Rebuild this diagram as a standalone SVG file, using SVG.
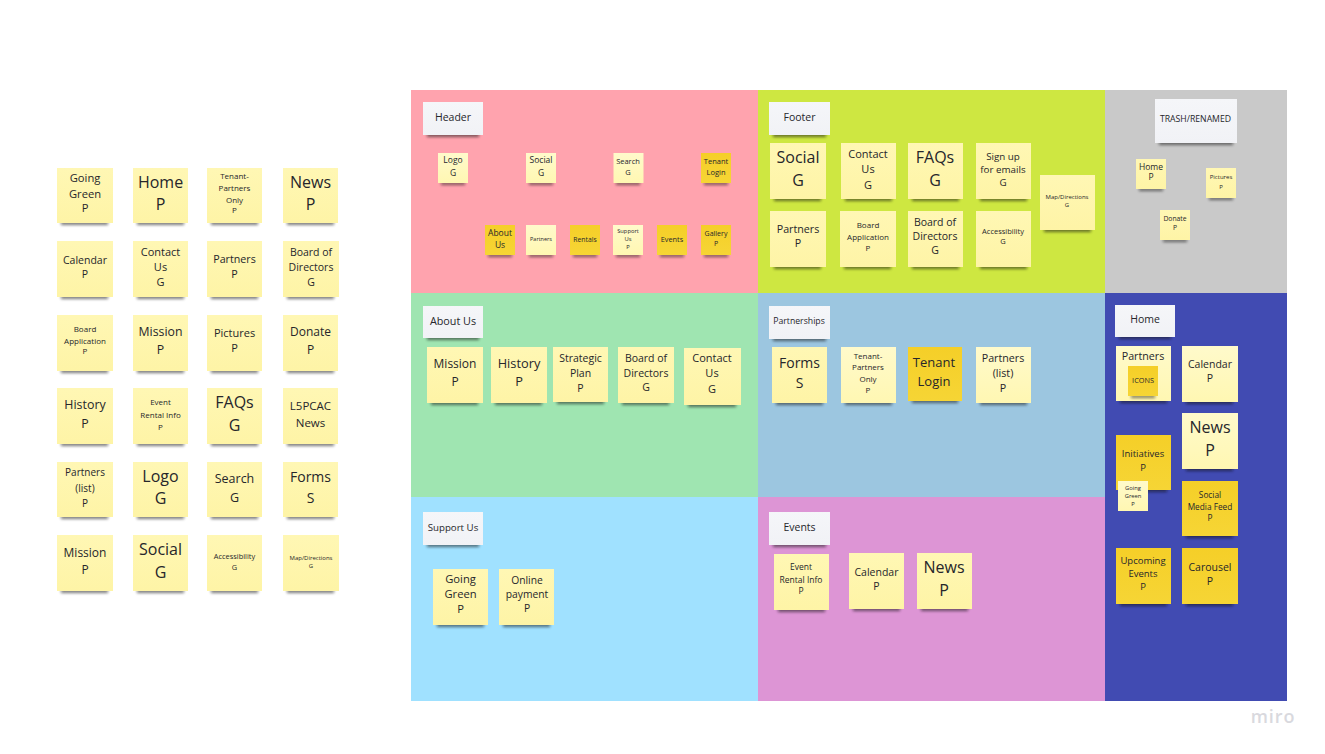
<svg xmlns="http://www.w3.org/2000/svg" width="1325" height="754" viewBox="0 0 1325 754">
<style>
text{font-family:"Open Sans","Noto Sans","Liberation Sans",sans-serif;fill:#26262b;text-anchor:middle}
.y{fill:url(#gy)}.l{fill:url(#gl)}.o{fill:url(#go)}.c{fill:url(#gc)}
.sh{fill:#111;opacity:.55;filter:url(#bl);transform:translateY(1px)}
.miro{fill:#d9d9de;font-weight:600;font-size:18px;letter-spacing:.9px}
</style>
<defs>
<filter id="bl" x="-20%" y="-200%" width="140%" height="500%"><feGaussianBlur stdDeviation="1.5"/></filter>
<linearGradient id="gy" x1="0" y1="0" x2="0" y2="1"><stop offset="0" stop-color="#fff7b4"/><stop offset="1" stop-color="#fef4a6"/></linearGradient>
<linearGradient id="gl" x1="0" y1="0" x2="0" y2="1"><stop offset="0" stop-color="#fffacb"/><stop offset="1" stop-color="#fff7b2"/></linearGradient>
<linearGradient id="go" x1="0" y1="0" x2="0" y2="1"><stop offset="0" stop-color="#f5cf28"/><stop offset="1" stop-color="#f6d535"/></linearGradient>
<linearGradient id="gc" x1="0" y1="0" x2="0" y2="1"><stop offset="0" stop-color="#f5f6f9"/><stop offset="1" stop-color="#f1f2f6"/></linearGradient>
</defs>
<rect width="1325" height="754" fill="#fff"/>
<g id="sections">
<rect id="sec-header" x="411" y="90" width="347" height="203" fill="#ffa3ae"/>
<rect id="sec-footer" x="758" y="90" width="347" height="203" fill="#cee741"/>
<rect id="sec-trash" x="1105" y="90" width="182" height="203" fill="#c9c9c9"/>
<rect id="sec-about" x="411" y="293" width="347" height="204" fill="#9fe5b1"/>
<rect id="sec-partnerships" x="758" y="293" width="347" height="204" fill="#9cc6e0"/>
<rect id="sec-home" x="1105" y="293" width="182" height="408" fill="#414bb2"/>
<rect id="sec-support" x="411" y="497" width="347" height="204" fill="#a0e1ff"/>
<rect id="sec-events" x="758" y="497" width="347" height="204" fill="#dd95d5"/>
</g>
<g id="connectors"/>
<g id="nodes">
<!-- left board -->
<g id="l-going-green"><rect class="sh" x="61" y="220" width="47" height="4"/><rect class="y" x="57" y="168" width="56" height="55"/><text font-size="11.2"><tspan x="85" y="182">Going</tspan><tspan x="85" y="198">Green</tspan><tspan x="85" y="212">P</tspan></text></g>
<g id="l-home"><rect class="sh" x="137" y="220" width="47" height="4"/><rect class="y" x="133" y="168" width="55" height="55"/><text font-size="16"><tspan x="160.500" y="188">Home</tspan><tspan x="160.500" y="210">P</tspan></text></g>
<g id="l-tenant"><rect class="sh" x="211" y="220" width="47" height="4"/><rect class="y" x="207" y="168" width="55" height="55"/><text font-size="8"><tspan x="234.500" y="179">Tenant-</tspan><tspan x="234.500" y="191">Partners</tspan><tspan x="234.500" y="203">Only</tspan><tspan x="234.500" y="213">P</tspan></text></g>
<g id="l-news"><rect class="sh" x="287" y="220" width="47" height="4"/><rect class="y" x="283" y="168" width="55" height="55"/><text font-size="16"><tspan x="310.500" y="188">News</tspan><tspan x="310.500" y="210">P</tspan></text></g>

<g id="l-calendar"><rect class="sh" x="61" y="294" width="47" height="4"/><rect class="y" x="57" y="241" width="56" height="56"/><text font-size="10.500"><tspan x="85" y="264">Calendar</tspan><tspan x="85" y="278">P</tspan></text></g>
<g id="l-contact"><rect class="sh" x="137" y="294" width="47" height="4"/><rect class="y" x="133" y="241" width="55" height="56"/><text font-size="11"><tspan x="160.500" y="256">Contact</tspan><tspan x="160.500" y="271">Us</tspan><tspan x="160.500" y="286">G</tspan></text></g>
<g id="l-partners"><rect class="sh" x="211" y="294" width="47" height="4"/><rect class="y" x="207" y="241" width="55" height="56"/><text font-size="10.700"><tspan x="234.500" y="263">Partners</tspan><tspan x="234.500" y="278">P</tspan></text></g>
<g id="l-board"><rect class="sh" x="287" y="294" width="47" height="4"/><rect class="y" x="283" y="241" width="56" height="56"/><text font-size="10.500"><tspan x="311" y="256">Board of</tspan><tspan x="311" y="271">Directors</tspan><tspan x="311" y="286">G</tspan></text></g>

<g id="l-boardapp"><rect class="sh" x="61" y="368" width="47" height="4"/><rect class="y" x="57" y="315" width="56" height="56"/><text font-size="8"><tspan x="85" y="332">Board</tspan><tspan x="85" y="344">Application</tspan><tspan x="85" y="354">P</tspan></text></g>
<g id="l-mission"><rect class="sh" x="137" y="368" width="47" height="4"/><rect class="y" x="133" y="315" width="55" height="56"/><text font-size="12.300"><tspan x="160.500" y="336">Mission</tspan><tspan x="160.500" y="354">P</tspan></text></g>
<g id="l-pictures"><rect class="sh" x="211" y="368" width="47" height="4"/><rect class="y" x="207" y="315" width="55" height="56"/><text font-size="11"><tspan x="234.500" y="337">Pictures</tspan><tspan x="234.500" y="352">P</tspan></text></g>
<g id="l-donate"><rect class="sh" x="287" y="368" width="47" height="4"/><rect class="y" x="283" y="315" width="55" height="56"/><text font-size="12"><tspan x="310.500" y="336">Donate</tspan><tspan x="310.500" y="354">P</tspan></text></g>

<g id="l-history"><rect class="sh" x="61" y="441" width="47" height="4"/><rect class="y" x="57" y="388" width="56" height="56"/><text font-size="12.400"><tspan x="85" y="409">History</tspan><tspan x="85" y="428">P</tspan></text></g>
<g id="l-event"><rect class="sh" x="137" y="441" width="47" height="4"/><rect class="y" x="133" y="388" width="55" height="56"/><text font-size="8"><tspan x="160.500" y="405">Event</tspan><tspan x="160.500" y="418">Rental Info</tspan><tspan x="160.500" y="430">P</tspan></text></g>
<g id="l-faqs"><rect class="sh" x="211" y="441" width="47" height="4"/><rect class="y" x="207" y="388" width="55" height="56"/><text font-size="16"><tspan x="234.500" y="408">FAQs</tspan><tspan x="234.500" y="431">G</tspan></text></g>
<g id="l-l5pcac"><rect class="sh" x="287" y="441" width="47" height="4"/><rect class="y" x="283" y="388" width="55" height="56"/><text font-size="11.500"><tspan x="310.500" y="410">L5PCAC</tspan><tspan x="310.500" y="427">News</tspan></text></g>

<g id="l-partners-list"><rect class="sh" x="61" y="514" width="47" height="4"/><rect class="y" x="57" y="462" width="56" height="55"/><text font-size="10"><tspan x="85" y="476">Partners</tspan><tspan x="85" y="492">(list)</tspan><tspan x="85" y="507">P</tspan></text></g>
<g id="l-logo"><rect class="sh" x="137" y="514" width="47" height="4"/><rect class="y" x="133" y="462" width="55" height="55"/><text font-size="16"><tspan x="160.500" y="482">Logo</tspan><tspan x="160.500" y="504">G</tspan></text></g>
<g id="l-search"><rect class="sh" x="211" y="514" width="47" height="4"/><rect class="y" x="207" y="462" width="55" height="55"/><text font-size="12.500"><tspan x="234.500" y="483">Search</tspan><tspan x="234.500" y="502">G</tspan></text></g>
<g id="l-forms"><rect class="sh" x="287" y="514" width="47" height="4"/><rect class="y" x="283" y="462" width="55" height="55"/><text font-size="14"><tspan x="310.500" y="482">Forms</tspan><tspan x="310.500" y="503">S</tspan></text></g>

<g id="l-mission2"><rect class="sh" x="61" y="588" width="47" height="4"/><rect class="y" x="57" y="535" width="56" height="56"/><text font-size="12"><tspan x="85" y="557">Mission</tspan><tspan x="85" y="574">P</tspan></text></g>
<g id="l-social"><rect class="sh" x="137" y="588" width="47" height="4"/><rect class="y" x="133" y="535" width="55" height="56"/><text font-size="16"><tspan x="160.500" y="555">Social</tspan><tspan x="160.500" y="578">G</tspan></text></g>
<g id="l-access"><rect class="sh" x="211" y="588" width="47" height="4"/><rect class="y" x="207" y="535" width="55" height="56"/><text font-size="7.400"><tspan x="234.500" y="559">Accessibility</tspan><tspan x="234.500" y="570">G</tspan></text></g>
<g id="l-map"><rect class="sh" x="287" y="588" width="47" height="4"/><rect class="y" x="283" y="535" width="56" height="56"/><text font-size="6"><tspan x="311" y="560">Map/Directions</tspan><tspan x="311" y="567.500">G</tspan></text></g>

<!-- header -->
<g id="h-card"><rect class="sh" x="427" y="132" width="52" height="4"/><rect class="c" x="423" y="102" width="60" height="33"/><text font-size="10.500" x="453" y="120.700">Header</text></g>
<g id="h-logo"><rect class="sh" x="441" y="181" width="24" height="3"/><rect class="l" x="438" y="153" width="30" height="30"/><text font-size="8.500"><tspan x="453" y="163">Logo</tspan><tspan x="453" y="176">G</tspan></text></g>
<g id="h-social"><rect class="sh" x="529" y="181" width="24" height="3"/><rect class="l" x="526" y="153" width="30" height="30"/><text font-size="8.500"><tspan x="541" y="163">Social</tspan><tspan x="541" y="176">G</tspan></text></g>
<g id="h-search"><rect class="sh" x="616" y="181" width="24" height="3"/><rect class="l" x="613.500" y="153" width="30" height="30"/><text font-size="7.500"><tspan x="628" y="164">Search</tspan><tspan x="628" y="175">G</tspan></text></g>
<g id="h-tenant"><rect class="sh" x="704" y="181" width="24" height="3"/><rect class="o" x="701" y="153" width="30" height="30"/><text font-size="7.500"><tspan x="716" y="164">Tenant</tspan><tspan x="716" y="175">Login</tspan></text></g>
<g id="h-about"><rect class="sh" x="488" y="253" width="24" height="3"/><rect class="o" x="485" y="225" width="30" height="30"/><text font-size="8.500"><tspan x="500" y="236">About</tspan><tspan x="500" y="248">Us</tspan></text></g>
<g id="h-partners"><rect class="sh" x="529" y="253" width="24" height="3"/><rect class="l" x="526" y="225" width="30" height="30"/><text font-size="5.500" x="541" y="241">Partners</text></g>
<g id="h-rentals"><rect class="sh" x="573" y="253" width="24" height="3"/><rect class="o" x="570" y="225" width="30" height="30"/><text font-size="6.800" x="585" y="241.500">Rentals</text></g>
<g id="h-support"><rect class="sh" x="616" y="253" width="24" height="3"/><rect class="l" x="613" y="225" width="30" height="30"/><text font-size="5.800"><tspan x="628" y="232.700">Support</tspan><tspan x="628" y="240.500">Us</tspan><tspan x="628" y="249">P</tspan></text></g>
<g id="h-events"><rect class="sh" x="660" y="253" width="24" height="3"/><rect class="o" x="657" y="225" width="30" height="30"/><text font-size="7.300" x="672" y="242">Events</text></g>
<g id="h-gallery"><rect class="sh" x="704" y="253" width="24" height="3"/><rect class="o" x="701" y="225" width="30" height="30"/><text font-size="7"><tspan x="716" y="235.700">Gallery</tspan><tspan x="716" y="246">P</tspan></text></g>

<!-- footer -->
<g id="f-card"><rect class="sh" x="773" y="132" width="53" height="4"/><rect class="c" x="769" y="102" width="61" height="33"/><text font-size="10.500" x="799.500" y="120.700">Footer</text></g>
<g id="f-social"><rect class="sh" x="774" y="196" width="47" height="4"/><rect class="y" x="770" y="143" width="56" height="56"/><text font-size="16"><tspan x="798" y="163">Social</tspan><tspan x="798" y="186">G</tspan></text></g>
<g id="f-contact"><rect class="sh" x="845" y="196" width="47" height="4"/><rect class="y" x="841" y="143" width="55" height="56"/><text font-size="11"><tspan x="868" y="158">Contact</tspan><tspan x="868" y="173">Us</tspan><tspan x="868" y="189">G</tspan></text></g>
<g id="f-faqs"><rect class="sh" x="912" y="196" width="47" height="4"/><rect class="y" x="908" y="143" width="55" height="56"/><text font-size="16"><tspan x="935" y="163">FAQs</tspan><tspan x="935" y="186">G</tspan></text></g>
<g id="f-signup"><rect class="sh" x="980" y="196" width="47" height="4"/><rect class="y" x="976" y="143" width="55" height="56"/><text font-size="9.800"><tspan x="1003" y="160">Sign up</tspan><tspan x="1003" y="173">for emails</tspan><tspan x="1003" y="186">G</tspan></text></g>
<g id="f-partners"><rect class="sh" x="774" y="264" width="47" height="4"/><rect class="y" x="770" y="211" width="56" height="56"/><text font-size="10.700"><tspan x="798" y="233">Partners</tspan><tspan x="798" y="247">P</tspan></text></g>
<g id="f-boardapp"><rect class="sh" x="844" y="264" width="47" height="4"/><rect class="y" x="840" y="211" width="56" height="56"/><text font-size="8"><tspan x="868" y="228">Board</tspan><tspan x="868" y="240">Application</tspan><tspan x="868" y="251">P</tspan></text></g>
<g id="f-board"><rect class="sh" x="912" y="264" width="47" height="4"/><rect class="y" x="908" y="211" width="55" height="56"/><text font-size="10.500"><tspan x="935" y="226">Board of</tspan><tspan x="935" y="240">Directors</tspan><tspan x="935" y="254">G</tspan></text></g>
<g id="f-access"><rect class="sh" x="980" y="264" width="47" height="4"/><rect class="y" x="976" y="211" width="55" height="56"/><text font-size="7.500"><tspan x="1003" y="234">Accessibility</tspan><tspan x="1003" y="244">G</tspan></text></g>
<g id="f-map"><rect class="sh" x="1044" y="227" width="47" height="4"/><rect class="y" x="1040" y="175" width="55" height="55"/><text font-size="6"><tspan x="1067" y="199">Map/Directions</tspan><tspan x="1067" y="207">G</tspan></text></g>

<!-- trash -->
<g id="t-card"><rect class="sh" x="1159" y="140" width="74" height="4"/><rect class="c" x="1155" y="99" width="82" height="44"/><text font-size="8.700" x="1195.500" y="122">TRASH/RENAMED</text></g>
<g id="t-home"><rect class="sh" x="1139" y="187" width="24" height="3"/><rect class="y" x="1136" y="159" width="30" height="30"/><text font-size="8.500"><tspan x="1151" y="170">Home</tspan><tspan x="1151" y="180">P</tspan></text></g>
<g id="t-pictures"><rect class="sh" x="1209" y="196" width="24" height="3"/><rect class="y" x="1206" y="168" width="30" height="30"/><text font-size="6"><tspan x="1221" y="179">Pictures</tspan><tspan x="1221" y="189">P</tspan></text></g>
<g id="t-donate"><rect class="sh" x="1163" y="238" width="24" height="3"/><rect class="y" x="1160" y="210" width="30" height="30"/><text font-size="6.800"><tspan x="1175" y="221">Donate</tspan><tspan x="1175" y="230">P</tspan></text></g>

<!-- about -->
<g id="a-card"><rect class="sh" x="427" y="335" width="52" height="4"/><rect class="c" x="423" y="306" width="60" height="32"/><text font-size="10.800" x="453" y="325">About Us</text></g>
<g id="a-mission"><rect class="sh" x="431" y="400" width="47" height="4"/><rect class="y" x="427" y="347" width="56" height="56"/><text font-size="12"><tspan x="455" y="368">Mission</tspan><tspan x="455" y="386">P</tspan></text></g>
<g id="a-history"><rect class="sh" x="495" y="400" width="47" height="4"/><rect class="y" x="491" y="347" width="56" height="56"/><text font-size="12.800"><tspan x="519" y="368">History</tspan><tspan x="519" y="386">P</tspan></text></g>
<g id="a-strategic"><rect class="sh" x="557" y="399" width="47" height="4"/><rect class="y" x="553" y="347" width="55" height="55"/><text font-size="10.500"><tspan x="580.500" y="362">Strategic</tspan><tspan x="580.500" y="377">Plan</tspan><tspan x="580.500" y="392">P</tspan></text></g>
<g id="a-board"><rect class="sh" x="622" y="400" width="47" height="4"/><rect class="y" x="618" y="347" width="56" height="56"/><text font-size="10.500"><tspan x="646" y="362">Board of</tspan><tspan x="646" y="377">Directors</tspan><tspan x="646" y="391">G</tspan></text></g>
<g id="a-contact"><rect class="sh" x="688" y="402" width="48" height="4"/><rect class="y" x="684" y="348" width="57" height="57"/><text font-size="11"><tspan x="712" y="362">Contact</tspan><tspan x="712" y="377">Us</tspan><tspan x="712" y="393">G</tspan></text></g>

<!-- partnerships -->
<g id="p-card"><rect class="sh" x="773" y="336" width="53" height="4"/><rect class="c" x="769" y="306" width="61" height="33"/><text font-size="8.700" x="799" y="324">Partnerships</text></g>
<g id="p-forms"><rect class="sh" x="776" y="400" width="47" height="4"/><rect class="y" x="772" y="347" width="55" height="56"/><text font-size="14"><tspan x="799.500" y="368">Forms</tspan><tspan x="799.500" y="388">S</tspan></text></g>
<g id="p-tenant"><rect class="sh" x="845" y="400" width="47" height="4"/><rect class="l" x="841" y="347" width="55" height="56"/><text font-size="8"><tspan x="868" y="359">Tenant-</tspan><tspan x="868" y="370">Partners</tspan><tspan x="868" y="382">Only</tspan><tspan x="868" y="393">P</tspan></text></g>
<g id="p-login"><rect class="sh" x="912" y="398" width="46" height="4"/><rect class="o" x="908" y="347" width="54" height="54"/><text font-size="13"><tspan x="934" y="367">Tenant</tspan><tspan x="934" y="386">Login</tspan></text></g>
<g id="p-list"><rect class="sh" x="980" y="400" width="47" height="4"/><rect class="l" x="976" y="347" width="55" height="56"/><text font-size="10.700"><tspan x="1003" y="362">Partners</tspan><tspan x="1003" y="377">(list)</tspan><tspan x="1003" y="392">P</tspan></text></g>

<!-- support -->
<g id="s-card"><rect class="sh" x="427" y="542" width="52" height="4"/><rect class="c" x="423" y="512" width="60" height="33"/><text font-size="9.700" x="453" y="530.700">Support Us</text></g>
<g id="s-going"><rect class="sh" x="437" y="622" width="47" height="4"/><rect class="y" x="433" y="569" width="55" height="56"/><text font-size="11.200"><tspan x="460.500" y="583">Going</tspan><tspan x="460.500" y="598">Green</tspan><tspan x="460.500" y="613">P</tspan></text></g>
<g id="s-online"><rect class="sh" x="503" y="622" width="47" height="4"/><rect class="y" x="499" y="569" width="55" height="56"/><text font-size="10.300"><tspan x="527" y="584">Online</tspan><tspan x="527" y="598">payment</tspan><tspan x="527" y="612">P</tspan></text></g>

<!-- events -->
<g id="e-card"><rect class="sh" x="773" y="542" width="53" height="4"/><rect class="c" x="769" y="512" width="61" height="33"/><text font-size="10.500" x="799.500" y="530.700">Events</text></g>
<g id="e-event"><rect class="sh" x="778" y="607" width="47" height="4"/><rect class="y" x="774" y="554" width="55" height="56"/><text font-size="8.500"><tspan x="801" y="570">Event</tspan><tspan x="801" y="583">Rental Info</tspan><tspan x="801" y="594">P</tspan></text></g>
<g id="e-calendar"><rect class="sh" x="853" y="606" width="47" height="4"/><rect class="y" x="849" y="553" width="55" height="56"/><text font-size="10.500"><tspan x="876.500" y="576">Calendar</tspan><tspan x="876.500" y="590">P</tspan></text></g>
<g id="e-news"><rect class="sh" x="921" y="606" width="47" height="4"/><rect class="y" x="917" y="553" width="55" height="56"/><text font-size="16"><tspan x="944" y="573">News</tspan><tspan x="944" y="596">P</tspan></text></g>

<!-- home -->
<g id="o-card"><rect class="sh" x="1119" y="334" width="52" height="4"/><rect class="c" x="1115" y="305" width="60" height="32"/><text font-size="10.500" x="1145" y="323">Home</text></g>
<g id="o-partners"><rect class="sh" x="1120" y="398" width="47" height="4"/><rect class="l" x="1116" y="346" width="55" height="55"/><text font-size="10.700" x="1143" y="360">Partners</text></g>
<g id="o-icons"><rect class="sh" x="1131" y="394" width="24" height="3"/><rect class="o" x="1128" y="366" width="30" height="30"/><text font-size="7.300" x="1143" y="383">ICONS</text></g>
<g id="o-calendar"><rect class="sh" x="1186" y="399" width="47" height="4"/><rect class="l" x="1182" y="346" width="56" height="56"/><text font-size="10.500"><tspan x="1210" y="368">Calendar</tspan><tspan x="1210" y="382">P</tspan></text></g>
<g id="o-news"><rect class="sh" x="1186" y="466" width="47" height="4"/><rect class="l" x="1182" y="413" width="56" height="56"/><text font-size="16"><tspan x="1210" y="433">News</tspan><tspan x="1210" y="456">P</tspan></text></g>
<g id="o-initiatives"><rect class="sh" x="1120" y="487" width="47" height="4"/><rect class="o" x="1116" y="435" width="55" height="55"/><text font-size="9.500"><tspan x="1143" y="457">Initiatives</tspan><tspan x="1143" y="471">P</tspan></text></g>
<g id="o-going"><rect class="l" x="1118" y="481" width="30" height="30"/><text font-size="5.800"><tspan x="1133" y="489.500">Going</tspan><tspan x="1133" y="497.500">Green</tspan><tspan x="1133" y="505.500">P</tspan></text></g>
<g id="o-social"><rect class="sh" x="1186" y="533" width="47" height="4"/><rect class="o" x="1182" y="481" width="56" height="55"/><text font-size="8.300"><tspan x="1210" y="498">Social</tspan><tspan x="1210" y="510">Media Feed</tspan><tspan x="1210" y="521">P</tspan></text></g>
<g id="o-upcoming"><rect class="sh" x="1120" y="601" width="47" height="4"/><rect class="o" x="1116" y="548" width="55" height="56"/><text font-size="9.500"><tspan x="1143" y="564">Upcoming</tspan><tspan x="1143" y="577">Events</tspan><tspan x="1143" y="590">P</tspan></text></g>
<g id="o-carousel"><rect class="sh" x="1186" y="601" width="47" height="4"/><rect class="o" x="1182" y="548" width="56" height="56"/><text font-size="10.500"><tspan x="1210" y="571">Carousel</tspan><tspan x="1210" y="585">P</tspan></text></g>
</g>
<text class="miro" x="1273" y="723">miro</text>
</svg>
